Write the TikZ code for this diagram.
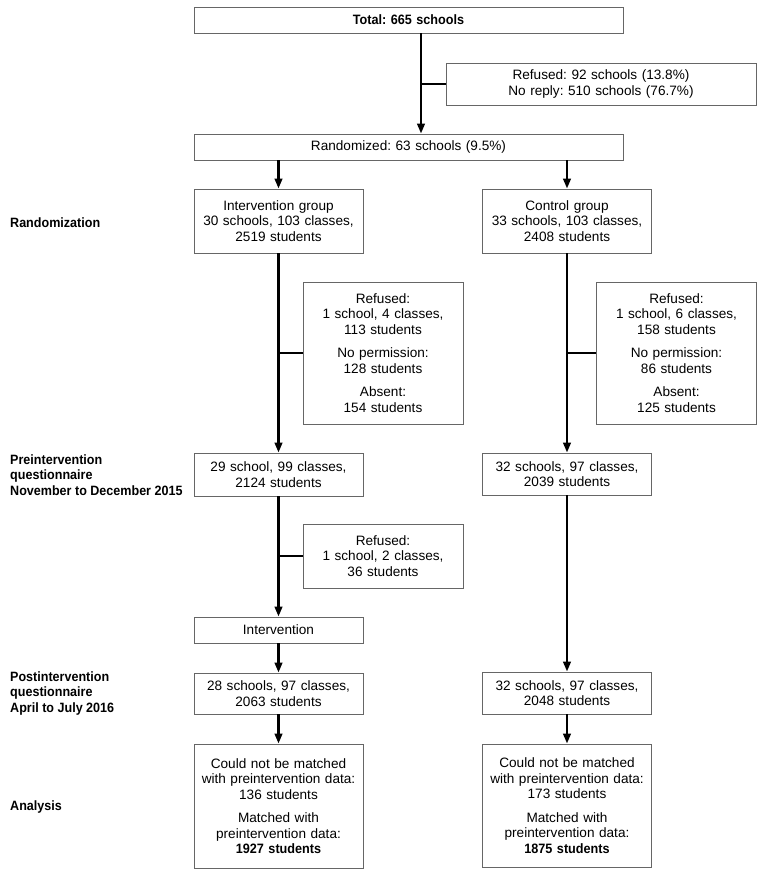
\documentclass[tikz,border=0pt]{standalone}
\usepackage{fontspec}
\setmainfont{Liberation Sans}[BoldFeatures = {FakeStretch = 0.93}]
\frenchspacing
\usetikzlibrary{arrows.meta}

\begin{document}
\begin{tikzpicture}[
  x = 1pt, y = -1pt,
  every node/.style = {font = \fontsize{13.6}{15.5}\selectfont},
  flowbox/.style = {draw = black!60, line width = 0.8pt, align = center,
                    inner sep = 0pt, text width = 160pt, minimum width = 169pt},
  widebox/.style = {flowbox, text width = 420pt, minimum width = 429pt, minimum height = 26pt},
  sidebox/.style = {flowbox, text width = 155pt, minimum width = 160pt},
  stage/.style = {anchor = west, align = left, inner sep = 0pt, font = \fontsize{13.5}{15.5}\selectfont\bfseries},
  flow/.style = {line width = 2.4pt, -{Triangle[length = 10pt, width = 7.5pt]}},
  branch/.style = {line width = 2.4pt},
  ]
  \useasboundingbox (0,0) rectangle (762,873);

  % enrolment
  \node[widebox] (total) at (408.5,20) {\textbf{Total: 665 schools}};
  \node[flowbox, text width = 300pt, minimum width = 310pt, minimum height = 42pt] (excl0) at (601,84)
    {Refused: 92 schools (13.8\%)\\No reply: 510 schools (76.7\%)};
  \node[widebox] (rand) at (408.5,147) {Randomized: 63 schools (9.5\%)};
  \coordinate (split0) at (421,84);

  % intervention arm
  \node[flowbox, minimum height = 64pt] (intgrp) at (278.5,221)
    {Intervention group\\30 schools, 103 classes,\\2519 students};
  \node[sidebox, minimum height = 142pt] (intexcl1) at (383,353)
    {Refused:\\1 school, 4 classes,\\113 students\\[8pt]No permission:\\128 students\\[8pt]Absent:\\154 students};
  \node[flowbox, minimum height = 43pt] (intpre) at (278.5,474.5)
    {29 school, 99 classes,\\2124 students};
  \node[sidebox, minimum height = 64pt] (intexcl2) at (383,556)
    {Refused:\\1 school, 2 classes,\\36 students};
  \node[flowbox, minimum height = 26pt] (intv) at (278.5,630) {Intervention};
  \node[flowbox, minimum height = 41pt] (intpost) at (278.5,693.5)
    {28 schools, 97 classes,\\2063 students};
  \node[flowbox, minimum height = 124pt] (intana) at (278.5,806)
    {Could not be matched\\with preintervention data:\\136 students\\[8pt]Matched with\\preintervention data:\\\textbf{1927 students}};

  % control arm
  \node[flowbox, minimum height = 64pt] (ctrgrp) at (567,221)
    {Control group\\33 schools, 103 classes,\\2408 students};
  \node[sidebox, minimum height = 142pt] (ctrexcl1) at (676.5,353)
    {Refused:\\1 school, 6 classes,\\158 students\\[8pt]No permission:\\86 students\\[8pt]Absent:\\125 students};
  \node[flowbox, minimum height = 42pt] (ctrpre) at (567,474)
    {32 schools, 97 classes,\\2039 students};
  \node[flowbox, minimum height = 42pt] (ctrpost) at (567,693)
    {32 schools, 97 classes,\\2048 students};
  \node[flowbox, minimum height = 123pt] (ctrana) at (567,805.5)
    {Could not be matched\\with preintervention data:\\173 students\\[8pt]Matched with\\preintervention data:\\\textbf{1875 students}};

  % stages
  \node[stage] (s1) at (10,223) {Randomization};
  \node[stage] (s2) at (10,475) {Preintervention\\questionnaire\\November to December 2015};
  \node[stage] (s3) at (10,693) {Postintervention\\questionnaire\\April to July 2016};
  \node[stage] (s4) at (10,807) {Analysis};

  % connectors
  \draw[flow] (total.south -| split0) -- (rand.north -| split0);
  \draw[branch] (split0) -- (excl0.west);
  \draw[flow] (rand.south -| intgrp) -- (intgrp.north);
  \draw[flow] (rand.south -| ctrgrp) -- (ctrgrp.north);
  \draw[flow] (intgrp) -- (intpre);
  \draw[branch] (intgrp.south |- intexcl1.west) -- (intexcl1.west);
  \draw[flow] (ctrgrp) -- (ctrpre);
  \draw[branch] (ctrgrp.south |- ctrexcl1.west) -- (ctrexcl1.west);
  \draw[flow] (intpre) -- (intv);
  \draw[branch] (intpre.south |- intexcl2.west) -- (intexcl2.west);
  \draw[flow] (intv) -- (intpost);
  \draw[flow] (intpost) -- (intana);
  \draw[flow] (ctrpre) -- (ctrpost);
  \draw[flow] (ctrpost) -- (ctrana);
\end{tikzpicture}
\end{document}
